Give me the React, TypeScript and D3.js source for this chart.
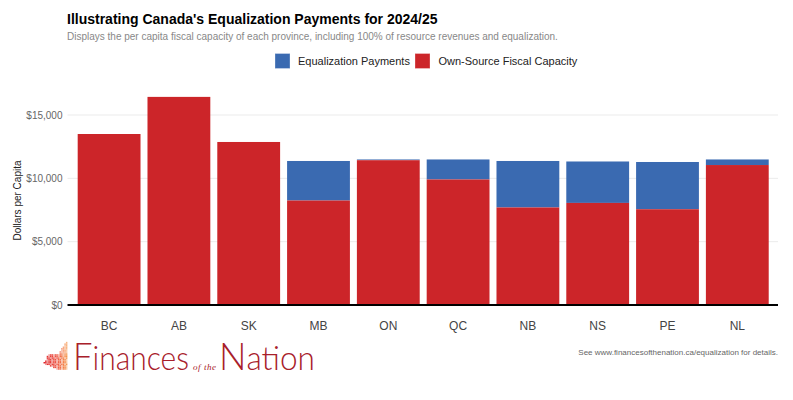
import React from "react";
import * as d3 from "d3";

const provinces = ["BC", "AB", "SK", "MB", "ON", "QC", "NB", "NS", "PE", "NL"];
const ownSource = [13500, 16430, 12870, 8250, 11430, 9910, 7700, 8060, 7560, 11050];
const equalization = [0, 0, 0, 3120, 60, 1580, 3670, 3270, 3730, 440];
const yTicks = [0, 5000, 10000, 15000];
const legendItems = [
  { label: "Equalization Payments", color: "#3a6ab1" },
  { label: "Own-Source Fiscal Capacity", color: "#cc2529" },
];

const width = 793;
const height = 400;
const font = "Arial, 'Liberation Sans', sans-serif";

const x = d3.scaleBand<string>().domain(provinces).range([74.2, 772.2]).paddingInner(0.1).paddingOuter(0.05);
const y = d3.scaleLinear().domain([0, 15000]).range([305, 115]);
const money = d3.format("$,");

// small mosaic beside the logo, rows of [column start, cell count], bottom up
const leafRows = [
  [8, 7], [6, 9], [4, 11], [1, 14], [0, 15], [1, 14], [2, 13], [2, 13], [2, 13],
  [3, 12], [10, 5], [10, 5], [11, 4], [11, 4], [12, 3], [13, 2], [13, 2], [14, 1],
];
const leafColor = d3.scaleLinear<string>().domain([0, 8, 15]).range(["#e0262c", "#ee5a48", "#f6a04e"]);

export default function App() {
  return (
    <svg width={width} height={height} style={{ position: "fixed", left: 0, top: 0, fontFamily: font }}>
      <rect width={width} height={height} fill="#fff" />
      <text x={67} y={24} fontSize={14} fontWeight="bold" fill="#000">Illustrating Canada's Equalization Payments for 2024/25</text>
      <text x={67} y={40} fontSize={10} fill="#888">Displays the per capita fiscal capacity of each province, including 100% of resource revenues and equalization.</text>

      {legendItems.map((d, i) => {
        const bx = i === 0 ? 275 : 415;
        return (
          <g key={d.label}>
            <rect x={bx} y={53.5} width={15} height={15} fill={d.color} stroke="#fff" strokeOpacity={0.3} />
            <text x={bx + (i === 0 ? 23 : 23.5)} y={65} fontSize={11} fill="#222">{d.label}</text>
          </g>
        );
      })}

      {yTicks.map((t) => (
        <g key={t}>
          {t > 0 && <line x1={67.5} x2={778} y1={y(t)} y2={y(t)} stroke="#ebebeb" />}
          <text x={62.5} y={y(t) + 3.5} fontSize={10} textAnchor="end" fill="#666">{money(t)}</text>
        </g>
      ))}
      <text transform="translate(21,200.5) rotate(-90)" fontSize={10} textAnchor="middle" fill="#222">Dollars per Capita</text>

      {provinces.map((p, i) => {
        const own = y(ownSource[i]);
        const top = y(ownSource[i] + equalization[i]);
        return (
          <g key={p}>
            {equalization[i] > 0 && (
              <rect x={x(p)} y={top} width={x.bandwidth()} height={own - top} fill="#3a6ab1" />
            )}
            <rect x={x(p)} y={own} width={x.bandwidth()} height={y(0) - own} fill="#cc2529" />
            <text x={x(p)! + x.bandwidth() / 2} y={330} fontSize={12} textAnchor="middle" fill="#444">{p}</text>
          </g>
        );
      })}
      <line x1={67.5} x2={778} y1={305} y2={305} stroke="#000" strokeWidth={2} />

      <g>
        {leafRows.map(([start, count], r) =>
          d3.range(count).map((k) => (
            <rect key={`${r}-${k}`} x={43.5 + (start + k) * 1.6} y={368.2 - r * 1.55} width={1.5} height={1.5}
              fill={leafColor(start + k)} opacity={(r + k) % 3 === 0 ? 0.5 : r > 9 ? 0.7 : 1} />
          ))
        )}
      </g>
      <g fontFamily="Lato, sans-serif" fontWeight={300} fill="#a8202a">
        <text x={73} y={369.5} textLength={116} lengthAdjust="spacingAndGlyphs">
          <tspan fontSize={38}>F</tspan>
          <tspan fontSize={33}>inances</tspan>
        </text>
        <text x={219} y={369.5} textLength={96} lengthAdjust="spacingAndGlyphs">
          <tspan fontSize={38}>N</tspan>
          <tspan fontSize={33}>ation</tspan>
        </text>
      </g>
      <text x={193} y={369.5} fontSize={9} fontFamily="'Liberation Serif', serif" fontStyle="italic" fill="#a8202a" textLength={23}>of the</text>

      <text x={778} y={355} fontSize={8} textAnchor="end" fill="#666">See www.financesofthenation.ca/equalization for details.</text>
    </svg>
  );
}
